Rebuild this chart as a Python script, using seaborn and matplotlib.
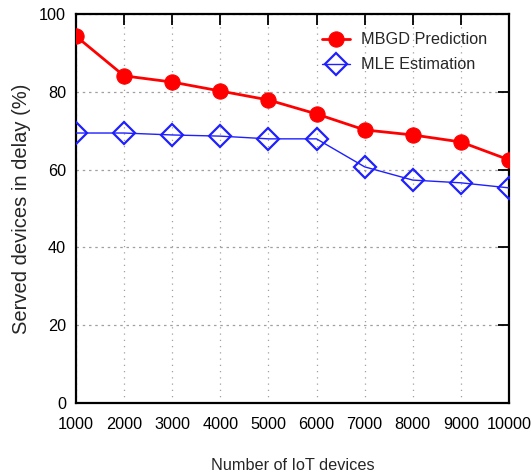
import matplotlib
matplotlib.use("Agg")
import matplotlib.pyplot as plt
import seaborn as sns
from matplotlib import font_manager

devices = [1000, 2000, 3000, 4000, 5000, 6000, 7000, 8000, 9000, 10000]
mbgd = [94.3, 84.1, 82.5, 80.2, 77.9, 74.3, 70.2, 68.9, 67.1, 62.5]
mle = [69.4, 69.4, 68.9, 68.6, 67.9, 67.9, 60.7, 57.3, 56.6, 55.3]
yticks = [0, 20, 40, 60, 80, 100]

sns.set_style("white")
names = {f.name for f in font_manager.fontManager.ttflist}
fam = ["Liberation Sans Narrow", "Liberation Sans", "DejaVu Sans"]
fam = [f for f in fam if f in names] or ["DejaVu Sans"]
plt.rcParams["font.family"] = fam

fig = plt.figure(figsize=(5.31, 4.74), dpi=100)
ax = fig.add_axes([0.143, 0.1498, 0.8156, 0.8207])

sns.lineplot(x=devices, y=mbgd, ax=ax, color="#ff0000", lw=2.0, marker="o",
             markersize=11, markeredgecolor="#ff0000", markerfacecolor="#ff0000",
             label="MBGD Prediction", zorder=4)
sns.lineplot(x=devices, y=mle, ax=ax, color="#1f1fff", lw=1.0, marker="D",
             markersize=11, markeredgecolor="#1f1fff", markerfacecolor="none",
             markeredgewidth=1.6, label="MLE Estimation", zorder=3)

ax.set_xlim(1000, 10000)
ax.set_ylim(0, 100)
ax.set_xticks(devices)
ax.set_yticks(yticks)
ax.tick_params(axis="both", direction="in", length=8, width=1.3, top=True, right=True,
               labelsize=11.7, colors="black")
ax.tick_params(axis="x", pad=10)
ax.tick_params(axis="y", pad=7)
ax.xaxis.grid(True, linestyle=(0, (1, 4)), color="#a0a0a0", lw=0.9)
ax.yaxis.grid(True, linestyle=(0, (2, 3)), color="#a0a0a0", lw=0.9)
for s in ax.spines.values():
    s.set_linewidth(1.6)
    s.set_color("black")
    s.set_visible(True)

ax.set_xlabel("Number of IoT devices", fontsize=11.7, labelpad=19)
ax.set_ylabel("Served devices in delay (%)", fontsize=14.5, labelpad=6)

leg = ax.legend(loc="upper left", bbox_to_anchor=(0.568, 0.953), frameon=False,
                borderpad=0, borderaxespad=0,
                fontsize=11.7, handlelength=1.72, handletextpad=0.68, labelspacing=0.62)

fig.savefig("out.png", dpi=100)
